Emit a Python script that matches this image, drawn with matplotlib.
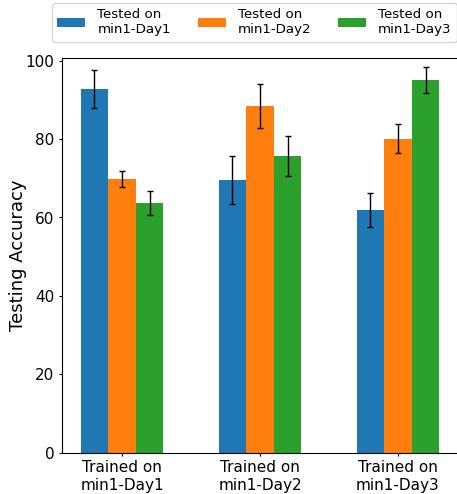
import numpy as np
import matplotlib
matplotlib.use("Agg")
import matplotlib.pyplot as plt

# =============================================================================
# Data
# =============================================================================
train_sets = ["Trained on\nmin1-Day1", "Trained on\nmin1-Day2", "Trained on\nmin1-Day3"]
test_labels = ["Tested on\nmin1-Day1", "Tested on\nmin1-Day2", "Tested on\nmin1-Day3"]

# one list per test set, entries = trained on Day1/Day2/Day3
acc_day1 = [92.8, 69.6, 61.9]
acc_day2 = [69.9, 88.5, 80.1]
acc_day3 = [63.7, 75.7, 95.1]

err_day1 = [4.9, 6.1, 4.4]
err_day2 = [2.0, 5.7, 3.7]
err_day3 = [3.0, 5.0, 3.2]

colors = ["#1f77b4", "#ff7f0e", "#2ca02c"]

# =============================================================================
# Plot
# =============================================================================
W, H = 457, 494
fig = plt.figure(figsize=(W / 100, H / 100), dpi=100)
ax = fig.add_axes([62 / W, 1 - 452.5 / H, 398 / W, (452.5 - 57.7) / H])

x = np.arange(len(train_sets))
width = 0.2
means = [acc_day1, acc_day2, acc_day3]
errs = [err_day1, err_day2, err_day3]

for i, (m, e) in enumerate(zip(means, errs)):
    ax.bar(x + (i - 1) * width, m, width, yerr=e, color=colors[i],
           label=test_labels[i], capsize=2,
           error_kw=dict(ecolor="black", elinewidth=1, capthick=1))

ax.set_xticks(x)
ax.set_xticklabels(train_sets, fontsize=11)
ax.set_xlim(-0.435, 2.45)
ax.set_ylim(0, 100.8)
ax.set_yticks([0, 20, 40, 60, 80, 100])
ax.tick_params(axis="y", labelsize=11, length=2)
ax.tick_params(axis="x", length=2)
ax.set_ylabel("Testing Accuracy", fontsize=13, labelpad=-1)

ax.legend(loc="upper left", bbox_to_anchor=(52 / W, 1 - 3 / H),
          bbox_transform=fig.transFigure, borderaxespad=0, ncol=3,
          fontsize=9.6, frameon=True, handlelength=2.1, handletextpad=0.9,
          columnspacing=2.0)

plt.savefig("out.png", dpi=100)
plt.close()
